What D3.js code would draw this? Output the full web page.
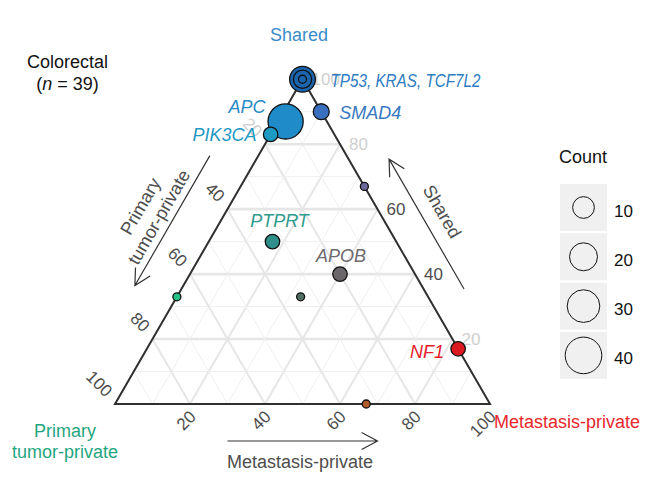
<!DOCTYPE html>
<html>
<head>
<meta charset="utf-8">
<script src="https://d3js.org/d3.v7.min.js"></script>
<style>
body { margin: 0; background: #fff; }
text { font-family: "Liberation Sans", Arial, sans-serif; }
</style>
</head>
<body>
<div id="chart"></div>
<script>
// Genes and their split between shared / primary-private / metastasis-private (%)
var genes = ["TP53", "KRAS", "TCF7L2", "APC", "SMAD4", "PIK3CA", "PTPRT", "APOB", "NF1", null, null, null, null];
var sharedPct = [100, 100, 100, 87, 90, 83, 50, 40, 17, 67, 33, 33, 0];
var primaryPct = [0, 0, 0, 11, 0, 17, 33, 20, 0, 0, 67, 33, 33];
var metPct = [0, 0, 0, 2, 10, 0, 17, 40, 83, 33, 0, 33, 67];
var counts = [16, 6, 1, 36, 4, 3, 3, 3, 3, 1, 1, 1, 1];

var tickValues = [20, 40, 60, 80, 100];
var legendCounts = [10, 20, 30, 40];

// styles
var fillColors = ["#1b64ae", "#1b64ae", "#1b64ae", "#1f8bc8", "#3a6ebf", "#1d9ac4", "#2f8f8a",
                  "#6b666a", "#db1920", "#6b6a9a", "#22c186", "#4f6f62", "#b0592b"];
var labelStyle = {
  "TP53":   {text: "TP53, KRAS, TCF7L2", dx: 28, dy: 8, anchor: "start", color: "#2e7cc1", len: 150, size: 17.5},
  "SMAD4":  {text: "SMAD4", dx: 18, dy: 7.5, anchor: "start", color: "#3778c0"},
  "APC":    {text: "APC", dx: -20, dy: -8, anchor: "end", color: "#2a8ac6"},
  "PIK3CA": {text: "PIK3CA", dx: -14, dy: 7, anchor: "end", color: "#1f98c3"},
  "PTPRT":  {text: "PTPRT", dx: 7, dy: -15, anchor: "middle", color: "#2f9a8e"},
  "APOB":   {text: "APOB", dx: 1, dy: -12, anchor: "middle", color: "#6e6a6e"},
  "NF1":    {text: "NF1", dx: -14, dy: 9.5, anchor: "end", color: "#e4202a"}
};
var fadedTicks = {shared: [20, 80, 100], primary: [20], met: []};

var svgWidth = 667;
var svgHeight = 479;

var svg = d3.select("#chart")
  .append("svg")
  .attr("width", svgWidth)
  .attr("height", svgHeight);

// Triangle geometry
var x0 = 115, side = 375, base = 404;
var triH = side * Math.sqrt(3) / 2;

var xScale = d3.scaleLinear().domain([0, 100]).range([0, side]);
var yScale = d3.scaleLinear().domain([0, 100]).range([base, base - triH]);

function pt(s, p, m) {
  return [x0 + xScale(m) + xScale(s) / 2, yScale(s)];
}

var sizeScale = d3.scaleSqrt().domain([0, 39]).range([4, 18.3]);
function radius(c) { return sizeScale(c - 1); }

var g = svg.append("g");

// Grid
var gridVals = d3.range(10, 100, 10);
gridVals.forEach(function(v) {
  var major = v % 20 === 0;
  var segs = [
    [pt(v, 100 - v, 0), pt(v, 0, 100 - v)],
    [pt(100 - v, v, 0), pt(0, v, 100 - v)],
    [pt(0, 100 - v, v), pt(100 - v, 0, v)]
  ];
  segs.forEach(function(s, i) {
    g.append("line")
      .attr("x1", s[0][0]).attr("y1", s[0][1])
      .attr("x2", s[1][0]).attr("y2", s[1][1])
      .attr("stroke", major ? "#e6e6e6" : "#efefef")
      .attr("stroke-width", major ? (i === 0 ? 2.6 : 2) : 1);
  });
});

// Triangle outline
var corners = [pt(100, 0, 0), pt(0, 100, 0), pt(0, 0, 100)];
g.append("path")
  .attr("d", d3.line()(corners) + "Z")
  .attr("fill", "none")
  .attr("stroke", "#2f2f2f")
  .attr("stroke-width", 2)
  .attr("stroke-linejoin", "miter");

// Tick labels
tickValues.forEach(function(v) {
  var ps = pt(v, 0, 100 - v);
  g.append("text")
    .attr("x", ps[0] + 9).attr("y", ps[1])
    .attr("dominant-baseline", "central")
    .attr("font-size", 17)
    .attr("fill", fadedTicks.shared.indexOf(v) >= 0 ? "#cfcfcf" : "#4d4d4d")
    .text(v);

  var pl = pt(100 - v, v, 0);
  g.append("text")
    .attr("transform", "translate(" + (pl[0] - 6) + "," + (pl[1] - 10) + ") rotate(45)")
    .attr("text-anchor", "end")
    .attr("dominant-baseline", "central")
    .attr("font-size", 17)
    .attr("fill", fadedTicks.primary.indexOf(v) >= 0 ? "#cfcfcf" : "#4d4d4d")
    .text(v);

  var pb = pt(0, 100 - v, v);
  g.append("text")
    .attr("transform", "translate(" + (pb[0] + 3) + "," + (pb[1] + 10) + ") rotate(-45)")
    .attr("text-anchor", "end")
    .attr("dominant-baseline", "central")
    .attr("font-size", 17)
    .attr("fill", fadedTicks.met.indexOf(v) >= 0 ? "#cfcfcf" : "#4d4d4d")
    .text(v);
});

// Axis arrows
function arrow(a, b) {
  var dx = b[0] - a[0], dy = b[1] - a[1];
  var len = Math.sqrt(dx * dx + dy * dy);
  var ux = dx / len, uy = dy / len;
  var ang = 28 * Math.PI / 180, arm = 18;
  function arm2(sign) {
    var c = Math.cos(ang), s = Math.sin(ang) * sign;
    var rx = -(ux * c - uy * s), ry = -(ux * s + uy * c);
    return [b[0] + rx * arm, b[1] + ry * arm];
  }
  var h1 = arm2(1), h2 = arm2(-1);
  g.append("path")
    .attr("d", "M" + a + "L" + b + "M" + h1 + "L" + b + "L" + h2)
    .attr("fill", "none")
    .attr("stroke", "#333")
    .attr("stroke-width", 1.2);
}
function offset(p, n, d) { return [p[0] + n[0] * d, p[1] + n[1] * d]; }

var nLeft = [-Math.sqrt(3) / 2, -0.5], nRight = [Math.sqrt(3) / 2, -0.5], nBottom = [0, 1];
arrow(offset(pt(70, 30, 0), nLeft, 42), offset(pt(30, 70, 0), nLeft, 42));
arrow(offset(pt(30, 0, 70), nRight, 35), offset(pt(70, 0, 30), nRight, 35));
arrow(offset(pt(0, 70, 30), nBottom, 37), offset(pt(0, 30, 70), nBottom, 37));

// Arrow titles
var lt = offset(pt(50, 50, 0), nLeft, 66);
g.append("text")
  .attr("transform", "translate(" + (lt[0] - 2) + "," + (lt[1] + 3) + ") rotate(-60)")
  .attr("text-anchor", "middle")
  .attr("font-size", 18)
  .attr("fill", "#4d4d4d")
  .selectAll("tspan")
  .data(["Primary", "tumor-private"])
  .enter().append("tspan")
  .attr("x", 0)
  .attr("y", function(d, i) { return -4.5 + i * 21.5; })
  .text(function(d) { return d; });

var rt = offset(pt(50, 0, 50), nRight, 54);
g.append("text")
  .attr("transform", "translate(" + (rt[0] - 1) + "," + (rt[1] - 3) + ") rotate(60)")
  .attr("text-anchor", "middle")
  .attr("dominant-baseline", "central")
  .attr("font-size", 18)
  .attr("fill", "#4d4d4d")
  .text("Shared");

var bt = offset(pt(0, 50, 50), nBottom, 63.5);
g.append("text")
  .attr("x", bt[0] - 2.5).attr("y", bt[1])
  .attr("text-anchor", "middle")
  .attr("font-size", 18)
  .attr("fill", "#4d4d4d")
  .text("Metastasis-private");

// Vertex titles
svg.append("text")
  .attr("x", 299).attr("y", 41)
  .attr("text-anchor", "middle")
  .attr("font-size", 18)
  .attr("fill", "#3a8cc8")
  .text("Shared");

svg.append("text")
  .attr("text-anchor", "middle")
  .attr("font-size", 18)
  .attr("fill", "#1fa67f")
  .selectAll("tspan")
  .data(["Primary", "tumor-private"])
  .enter().append("tspan")
  .attr("x", 65)
  .attr("y", function(d, i) { return 437 + i * 21; })
  .text(function(d) { return d; });

svg.append("text")
  .attr("x", 494).attr("y", 428)
  .attr("font-size", 18)
  .attr("fill", "#e8262e")
  .text("Metastasis-private");

// Title
svg.append("text")
  .attr("x", 67.5).attr("y", 68)
  .attr("text-anchor", "middle")
  .attr("font-size", 18)
  .attr("fill", "#111")
  .text("Colorectal");
var sub = svg.append("text")
  .attr("x", 67.5).attr("y", 90)
  .attr("text-anchor", "middle")
  .attr("font-size", 18)
  .attr("fill", "#111");
sub.append("tspan").text("(");
sub.append("tspan").attr("font-style", "italic").text("n");
sub.append("tspan").text(" = 39)");

// Points
var points = genes.map(function(gene, i) {
  return {gene: gene, s: sharedPct[i], p: primaryPct[i], m: metPct[i], count: counts[i], color: fillColors[i]};
});
var sorted = points.slice().sort(function(a, b) { return b.count - a.count; });

g.append("g").selectAll("circle")
  .data(sorted)
  .enter()
  .append("circle")
  .attr("cx", function(d) { return pt(d.s, d.p, d.m)[0]; })
  .attr("cy", function(d) { return pt(d.s, d.p, d.m)[1]; })
  .attr("r", function(d) { return radius(d.count); })
  .attr("fill", function(d) { return d.color; })
  .attr("stroke", "#111")
  .attr("stroke-width", 1.3);

// Gene labels
g.append("g").selectAll("text")
  .data(points.filter(function(d) { return labelStyle[d.gene]; }))
  .enter()
  .append("text")
  .each(function(d) {
    var st = labelStyle[d.gene];
    var c = pt(d.s, d.p, d.m);
    var t = d3.select(this)
      .attr("x", c[0] + st.dx)
      .attr("y", c[1] + st.dy)
      .attr("text-anchor", st.anchor)
      .attr("font-size", st.size || 18)
      .attr("font-style", "italic")
      .attr("fill", st.color)
      .text(st.text);
    if (st.len) t.attr("textLength", st.len).attr("lengthAdjust", "spacingAndGlyphs");
  });

// Legend
var legend = svg.append("g").attr("transform", "translate(560, 184)");
legend.append("text")
  .attr("x", -1).attr("y", -21)
  .attr("font-size", 18)
  .attr("fill", "#111")
  .text("Count");

var keys = legend.selectAll("g.key")
  .data(legendCounts)
  .enter().append("g")
  .attr("class", "key")
  .attr("transform", function(d, i) { return "translate(0," + (i * 49.3) + ")"; });
keys.append("rect")
  .attr("width", 47).attr("height", 47)
  .attr("fill", "#f0f0f0");
keys.append("circle")
  .attr("cx", 23.5).attr("cy", 23.5)
  .attr("r", function(d) { return radius(d); })
  .attr("fill", "none")
  .attr("stroke", "#111")
  .attr("stroke-width", 1);
keys.append("text")
  .attr("x", 54).attr("y", 27)
  .attr("dominant-baseline", "central")
  .attr("font-size", 17)
  .attr("fill", "#111")
  .text(function(d) { return d; });
</script>
</body>
</html>
